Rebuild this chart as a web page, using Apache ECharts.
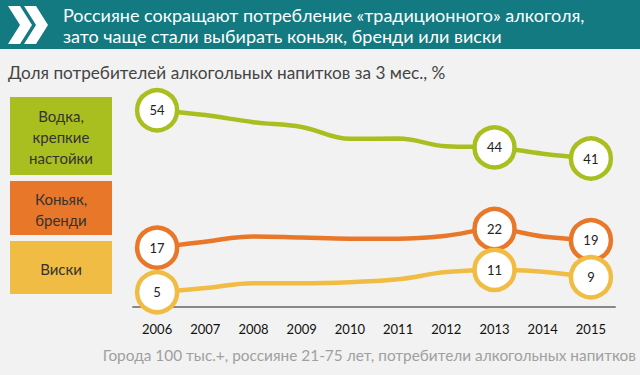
<!DOCTYPE html>
<html lang="ru" style="height: 100%">
<head>
  <meta charset="utf-8">
</head>
<body style="height: 100%; margin: 0">
  <div id="container" style="width: 640px; height: 375px"></div>
  <script type="text/javascript" src="https://fastly.jsdelivr.net/npm/echarts@6/dist/echarts.min.js"></script>
  <script type="text/javascript">
    // data
    var years = ['2006', '2007', '2008', '2009', '2010', '2011', '2012', '2013', '2014', '2015'];
    var vodka = [54, 52.7, 50.8, 49.5, 46.3, 46.4, 44.3, 44, 42.3, 41];
    var cognac = [17, 18.6, 20, 19.7, 19.4, 19.4, 20.2, 22, 20, 19];
    var whisky = [5, 6.1, 7.4, 7.4, 7.7, 8.5, 10.4, 11, 10.5, 9];
    // points that get a circle with a value
    var keyIdx = [0, 7, 9];

    var seriesNames = ['Водка,\nкрепкие\nнастойки', 'Коньяк,\nбренди', 'Виски'];
    var titleLines = [
      'Россияне сокращают потребление «традиционного» алкоголя,',
      'зато чаще стали выбирать коньяк, бренди или виски'
    ];
    var subtitle = 'Доля потребителей алкогольных напитков за 3 мес., %';
    var footnote = 'Города 100 тыс.+, россияне 21-75 лет, потребители алкогольных напитков';

    var FONT = 'Lato, "Open Sans", sans-serif';
    var colors = ['#a9bf1f', '#e8772a', '#f1bc43'];

    var dom = document.getElementById('container');
    var myChart = echarts.init(dom, null, { renderer: 'svg' });

    function mkSeries(name, values, color) {
      return {
        name: name,
        type: 'line',
        smooth: 0.4,
        clip: false,
        showAllSymbol: true,
        symbol: 'circle',
        symbolSize: 40,
        lineStyle: { color: color, width: 4.5 },
        itemStyle: { color: '#fff', borderColor: color, borderWidth: 4.5 },
        label: { show: true, position: 'inside', color: '#222', fontSize: 13, fontFamily: FONT },
        emphasis: { disabled: true },
        data: values.map(function (v, i) {
          if (keyIdx.indexOf(i) >= 0) return { value: v };
          return { value: v, symbol: 'none', label: { show: false } };
        })
      };
    }

    // legend boxes on the left
    var boxes = [
      { y: 97, h: 78 },
      { y: 181, h: 54 },
      { y: 241, h: 53 }
    ];
    var legendGraphics = [];
    boxes.forEach(function (b, i) {
      legendGraphics.push({
        type: 'rect',
        shape: { x: 10, y: b.y, width: 102, height: b.h },
        style: { fill: colors[i] }
      });
      legendGraphics.push({
        type: 'text',
        style: {
          text: seriesNames[i],
          x: 61, y: b.y + b.h / 2 + 1,
          align: 'center', verticalAlign: 'middle',
          font: '15px ' + FONT, lineHeight: 21,
          fill: '#333'
        }
      });
    });

    function chevron(x) {
      return {
        type: 'polygon',
        shape: { points: [[x, 6], [x + 12, 6], [x + 24, 25], [x + 12, 44], [x, 44], [x + 12, 25]] },
        style: { fill: '#fff' }
      };
    }

    var option = {
      backgroundColor: '#f2f2f2',
      animation: false,
      grid: { left: 133, right: 25, top: 88, height: 219 },
      xAxis: {
        type: 'category',
        data: years,
        boundaryGap: true,
        axisLine: { onZero: false, lineStyle: { color: '#888', width: 2 } },
        axisTick: { show: false },
        axisLabel: { color: '#111', fontSize: 13, margin: 15, fontFamily: FONT }
      },
      yAxis: {
        type: 'value',
        min: 1,
        max: 60,
        show: false
      },
      graphic: [
        { type: 'rect', shape: { x: 0, y: 0, width: 640, height: 49 }, style: { fill: '#127a80' } },
        chevron(8),
        chevron(24),
        { type: 'text', style: { text: titleLines[0], x: 63, y: 15, verticalAlign: 'middle', font: '18px ' + FONT, fill: '#fff' } },
        { type: 'text', style: { text: titleLines[1], x: 63, y: 36, verticalAlign: 'middle', font: '18px ' + FONT, fill: '#fff' } },
        { type: 'text', style: { text: subtitle, x: 8, y: 72, verticalAlign: 'middle', font: '17.2px ' + FONT, fill: '#444' } },
        { type: 'text', style: { text: footnote, x: 636, y: 355, align: 'right', verticalAlign: 'middle', font: '15.4px ' + FONT, fill: '#a0a0a0' } }
      ].concat(legendGraphics),
      series: [
        mkSeries('Водка', vodka, colors[0]),
        mkSeries('Коньяк', cognac, colors[1]),
        mkSeries('Виски', whisky, colors[2])
      ]
    };

    myChart.setOption(option);
    window.addEventListener('resize', myChart.resize);
  </script>
</body>
</html>
